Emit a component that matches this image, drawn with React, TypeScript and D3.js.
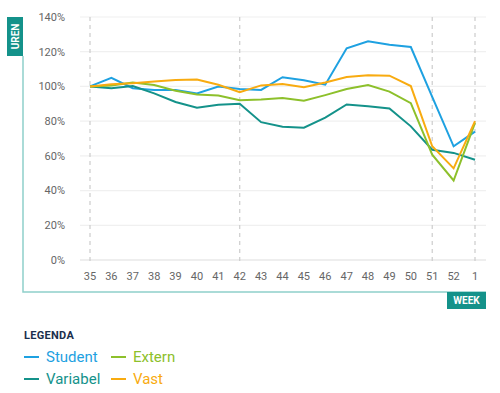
import React, { useEffect, useRef } from 'react';
import * as d3 from 'd3';

const weeks = ['35', '36', '37', '38', '39', '40', '41', '42', '43', '44', '45', '46', '47', '48', '49', '50', '51', '52', '1'];
const student = [100, 105, 99, 98, 98, 96, 100, 98.5, 98, 105.3, 103.6, 101, 122, 126, 124, 122.7, 94, 65.5, 74];
const variabel = [100, 99, 100.2, 96, 91, 87.7, 89.5, 90, 79.4, 76.8, 76.2, 82, 89.6, 88.6, 87.3, 77, 63.5, 61.7, 57.8];
const extern = [100, 100.6, 102.3, 100.8, 97.5, 95.4, 94.8, 92, 92.5, 93.3, 91.7, 95, 98.5, 100.8, 97, 90.4, 60.7, 45.8, 79];
const vast = [100, 101.2, 101.9, 102.9, 103.7, 104, 101, 96.7, 100.6, 101.4, 99.6, 102.3, 105.4, 106.5, 106.2, 100.2, 65.5, 52.8, 80];
const yTicks = [0, 20, 40, 60, 80, 100, 120, 140];
const markedWeeks = ['35', '42', '51', '1'];

const series = [
  { name: 'Student', values: student, color: '#1ea1e1' },
  { name: 'Variabel', values: variabel, color: '#14928a' },
  { name: 'Extern', values: extern, color: '#8dc02b' },
  { name: 'Vast', values: vast, color: '#f8ab10' },
];

const FONT = 'Roboto, "Noto Sans", sans-serif';

function App() {
  const ref = useRef<SVGSVGElement>(null);

  useEffect(() => {
    const svg = d3.select(ref.current);
    svg.selectAll('*').remove();

    const left = 80;
    const right = 486;
    const x = d3.scalePoint<string>().domain(weeks).range([90, 475]);
    const y = d3.scaleLinear().domain([0, 140]).range([260, 17]);

    // horizontal grid
    svg
      .append('g')
      .selectAll('line')
      .data(yTicks)
      .join('line')
      .attr('x1', left)
      .attr('x2', right)
      .attr('y1', d => y(d))
      .attr('y2', d => y(d))
      .attr('stroke', d => (d === 0 ? '#dddddd' : '#f0f0f0'))
      .attr('stroke-width', 1.2);

    // dashed week markers
    svg
      .append('g')
      .selectAll('line')
      .data(markedWeeks)
      .join('line')
      .attr('x1', d => x(d)!)
      .attr('x2', d => x(d)!)
      .attr('y1', y(140))
      .attr('y2', y(0) + 4)
      .attr('stroke', '#cccccc')
      .attr('stroke-width', 1.2)
      .attr('stroke-dasharray', '4,4');

    // y labels
    svg
      .append('g')
      .selectAll('text')
      .data(yTicks)
      .join('text')
      .attr('x', 65)
      .attr('y', d => y(d))
      .attr('dy', '0.35em')
      .attr('text-anchor', 'end')
      .attr('font-family', FONT)
      .attr('font-size', 11)
      .attr('fill', '#666')
      .text(d => d + '%');

    // x labels
    svg
      .append('g')
      .selectAll('text')
      .data(weeks)
      .join('text')
      .attr('x', d => x(d)!)
      .attr('y', 276)
      .attr('dy', '0.35em')
      .attr('text-anchor', 'middle')
      .attr('font-family', FONT)
      .attr('font-size', 11)
      .attr('fill', '#666')
      .text(d => d);

    const line = d3
      .line<number>()
      .x((d, i) => x(weeks[i])!)
      .y(d => y(d));

    series.forEach(s => {
      svg
        .append('path')
        .datum(s.values)
        .attr('fill', 'none')
        .attr('stroke', s.color)
        .attr('stroke-width', 2)
        .attr('stroke-linejoin', 'miter')
        .attr('d', line);
    });

    // frame
    svg
      .append('path')
      .attr('d', `M23,56 L23,292 L${right},292`)
      .attr('fill', 'none')
      .attr('stroke', '#8fd0ca')
      .attr('stroke-width', 1.5);

    // UREN badge
    svg.append('rect').attr('x', 7).attr('y', 17).attr('width', 16).attr('height', 39).attr('fill', '#14928a');
    svg
      .append('text')
      .attr('transform', 'translate(15,36.5) rotate(-90)')
      .attr('text-anchor', 'middle')
      .attr('dy', '0.35em')
      .attr('font-family', FONT)
      .attr('font-weight', 700)
      .attr('font-size', 10)
      .attr('fill', '#fff')
      .text('UREN');

    // WEEK badge
    svg.append('rect').attr('x', 447).attr('y', 292).attr('width', 39).attr('height', 17).attr('fill', '#14928a');
    svg
      .append('text')
      .attr('x', 466.5)
      .attr('y', 300.5)
      .attr('dy', '0.35em')
      .attr('text-anchor', 'middle')
      .attr('font-family', FONT)
      .attr('font-weight', 700)
      .attr('font-size', 10)
      .attr('fill', '#fff')
      .text('WEEK');

    // legend
    svg
      .append('text')
      .attr('x', 24)
      .attr('y', 339)
      .attr('font-family', FONT)
      .attr('font-weight', 700)
      .attr('font-size', 11)
      .attr('letter-spacing', 0.3)
      .attr('fill', '#1b2f4d')
      .text('LEGENDA');

    const legendPos = [
      { lx: 24, ly: 357 },
      { lx: 24, ly: 379 },
      { lx: 111, ly: 357 },
      { lx: 111, ly: 379 },
    ];
    const legendItems = [series[0], series[1], series[2], series[3]];
    legendItems.forEach((s, i) => {
      const p = legendPos[i];
      svg
        .append('line')
        .attr('x1', p.lx)
        .attr('x2', p.lx + 15)
        .attr('y1', p.ly)
        .attr('y2', p.ly)
        .attr('stroke', s.color)
        .attr('stroke-width', 2);
      svg
        .append('text')
        .attr('x', p.lx + 22)
        .attr('y', p.ly)
        .attr('dy', '0.35em')
        .attr('font-family', FONT)
        .attr('font-size', 15)
        .attr('fill', s.color)
        .text(s.name);
    });
  });

  return (
    <svg
      ref={ref}
      width={500}
      height={393}
      style={{ position: 'absolute', left: 0, top: 0, background: '#fff' }}
    />
  );
}

export default App;
